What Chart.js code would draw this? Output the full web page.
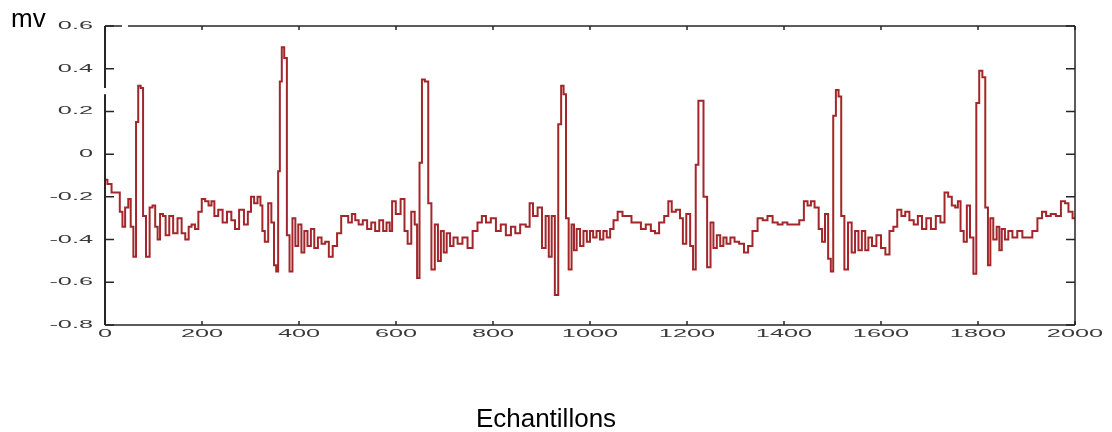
<!DOCTYPE html>
<html>
<head>
<meta charset="utf-8">
<script src="https://cdn.jsdelivr.net/npm/chart.js@4"></script>
<style>
html,body{margin:0;padding:0;background:#ffffff;}
canvas{display:block;}
</style>
</head>
<body>
<canvas id="c" width="1112" height="432"></canvas>
<script>
// Sample index (Echantillons)
const samples = [
  0,10,17,27,34,38,45,51,55,62,
  66,71,76,81,88,96,100,107,110,117,
  122,128,137,144,155,161,170,175,182,189,
  196,203,210,217,222,229,238,247,256,265,
  271,282,291,298,304,311,318,323,326,333,
  340,346,351,355,359,362,367,372,378,383,
  390,395,402,408,414,421,428,435,443,450,
  458,465,474,483,491,498,505,513,519,527,
  536,545,553,561,570,577,584,590,594,605,
  614,621,627,636,641,646,651,656,663,670,
  676,684,689,696,701,708,715,722,732,742,
  753,763,773,781,790,801,811,821,832,842,
  850,862,873,878,887,897,905,912,918,924,
  931,938,943,948,953,959,965,969,976,983,
  990,997,1003,1010,1017,1024,1031,1038,1045,1052,
  1062,1072,1082,1089,1100,1110,1120,1131,1137,1148,
  1158,1165,1172,1182,1189,1194,1203,1210,1215,1221,
  1226,1231,1237,1246,1251,1258,1265,1272,1278,1285,
  1294,1302,1313,1322,1330,1340,1351,1361,1371,1382,
  1392,1402,1412,1426,1437,1445,1452,1459,1467,1476,
  1481,1488,1494,1499,1504,1510,1515,1521,1528,1536,
  1543,1550,1557,1564,1571,1577,1586,1595,1605,1613,
  1622,1629,1638,1646,1654,1663,1672,1680,1689,1698,
  1708,1718,1727,1735,1742,1750,1756,1761,1767,1774,
  1780,1787,1794,1799,1806,1812,1818,1823,1828,1835,
  1842,1846,1852,1859,1866,1876,1886,1897,1907,1917,
  1928,1936,1945,1955,1966,1976,1983,1990,2000
];
// Signal amplitude (mv)
const millivolts = [
  -0.12,-0.14,-0.18,-0.18,-0.27,-0.34,-0.25,-0.21,-0.34,-0.48,
  0.15,0.32,0.31,-0.29,-0.48,-0.25,-0.24,-0.34,-0.40,-0.28,
  -0.29,-0.38,-0.29,-0.37,-0.30,-0.37,-0.40,-0.34,-0.33,-0.35,
  -0.27,-0.21,-0.22,-0.24,-0.22,-0.29,-0.26,-0.32,-0.27,-0.31,
  -0.35,-0.26,-0.33,-0.27,-0.20,-0.23,-0.20,-0.24,-0.36,-0.41,
  -0.23,-0.32,-0.52,-0.55,-0.08,0.34,0.50,0.45,-0.38,-0.55,
  -0.30,-0.43,-0.33,-0.46,-0.36,-0.43,-0.35,-0.44,-0.39,-0.42,
  -0.41,-0.48,-0.43,-0.37,-0.29,-0.29,-0.32,-0.28,-0.31,-0.33,
  -0.31,-0.35,-0.32,-0.36,-0.31,-0.36,-0.32,-0.36,-0.22,-0.28,
  -0.21,-0.36,-0.42,-0.27,-0.33,-0.58,-0.04,0.35,0.34,-0.23,
  -0.54,-0.33,-0.50,-0.36,-0.46,-0.37,-0.43,-0.39,-0.42,-0.39,
  -0.44,-0.36,-0.32,-0.29,-0.32,-0.30,-0.36,-0.33,-0.38,-0.34,
  -0.37,-0.33,-0.34,-0.23,-0.29,-0.25,-0.44,-0.29,-0.48,-0.29,
  -0.66,0.14,0.32,0.28,-0.30,-0.54,-0.33,-0.45,-0.35,-0.43,
  -0.36,-0.41,-0.36,-0.39,-0.36,-0.40,-0.36,-0.39,-0.35,-0.31,
  -0.27,-0.29,-0.29,-0.32,-0.32,-0.35,-0.33,-0.36,-0.37,-0.32,
  -0.29,-0.22,-0.27,-0.26,-0.30,-0.42,-0.28,-0.43,-0.54,-0.05,
  0.25,0.25,-0.20,-0.53,-0.32,-0.44,-0.38,-0.43,-0.39,-0.42,
  -0.39,-0.41,-0.42,-0.46,-0.43,-0.36,-0.30,-0.31,-0.29,-0.32,
  -0.33,-0.32,-0.33,-0.33,-0.31,-0.22,-0.24,-0.22,-0.25,-0.35,
  -0.41,-0.28,-0.49,-0.55,0.18,0.30,0.27,-0.29,-0.54,-0.32,
  -0.46,-0.36,-0.45,-0.36,-0.45,-0.39,-0.43,-0.38,-0.44,-0.47,
  -0.36,-0.34,-0.26,-0.29,-0.27,-0.31,-0.33,-0.29,-0.35,-0.30,
  -0.35,-0.29,-0.32,-0.18,-0.20,-0.24,-0.25,-0.22,-0.36,-0.41,
  -0.24,-0.39,-0.56,0.24,0.39,0.36,-0.25,-0.52,-0.30,-0.40,
  -0.34,-0.45,-0.35,-0.40,-0.36,-0.39,-0.36,-0.39,-0.39,-0.36,
  -0.30,-0.27,-0.29,-0.28,-0.29,-0.22,-0.23,-0.27,-0.30
];
const xTickValues = [0,200,400,600,800,1000,1200,1400,1600,1800,2000];
const yTickValues = [-0.8,-0.6,-0.4,-0.2,0,0.2,0.4,0.6];
const yAxisLabel = 'mv';
const xAxisLabel = 'Echantillons';

const points = samples.map((s, i) => ({ x: s, y: millivolts[i] }));

function fmtY(v) { return v === 0 ? '0' : v.toFixed(1); }

const matlabAxes = {
  id: 'matlabAxes',
  afterDraw(chart) {
    const { ctx, chartArea: a, scales: { x, y } } = chart;
    ctx.save();
    ctx.strokeStyle = '#262626';
    ctx.lineCap = 'butt';
    // box: top (with small gap), right, bottom
    ctx.lineWidth = 1.5;
    ctx.beginPath();
    ctx.moveTo(a.left, a.top); ctx.lineTo(a.left + 17, a.top);
    ctx.moveTo(a.left + 23, a.top); ctx.lineTo(a.right, a.top);
    ctx.moveTo(a.right, a.top); ctx.lineTo(a.right, a.bottom);
    ctx.moveTo(a.left, a.bottom); ctx.lineTo(a.right, a.bottom);
    ctx.stroke();
    // left axis (slightly heavier, with small gap)
    const gapTop = y.getPixelForValue(0.31);
    const gapBot = y.getPixelForValue(0.28);
    ctx.lineWidth = 2;
    ctx.beginPath();
    ctx.moveTo(a.left, a.top); ctx.lineTo(a.left, gapTop);
    ctx.moveTo(a.left, gapBot); ctx.lineTo(a.left, a.bottom);
    ctx.stroke();
    // inward ticks on all four sides
    ctx.lineWidth = 1.5;
    ctx.beginPath();
    yTickValues.forEach(v => {
      const py = y.getPixelForValue(v);
      ctx.moveTo(a.left, py); ctx.lineTo(a.left + 9, py);
      ctx.moveTo(a.right, py); ctx.lineTo(a.right - 9, py);
    });
    xTickValues.forEach(v => {
      const px = x.getPixelForValue(v);
      ctx.moveTo(px, a.bottom); ctx.lineTo(px, a.bottom - 4);
      ctx.moveTo(px, a.top); ctx.lineTo(px, a.top + 4);
    });
    ctx.stroke();
    // tick labels (wide, stretched look)
    ctx.fillStyle = '#3a3a3a';
    ctx.font = '11px "Liberation Sans", Arial, sans-serif';
    ctx.textBaseline = 'middle';
    yTickValues.forEach(v => {
      const py = y.getPixelForValue(v);
      ctx.save();
      ctx.translate(a.left - 12, py);
      ctx.scale(2.3, 1);
      ctx.textAlign = 'right';
      ctx.fillText(fmtY(v), 0, 0);
      ctx.restore();
    });
    xTickValues.forEach(v => {
      const px = x.getPixelForValue(v);
      ctx.save();
      ctx.translate(px, a.bottom + 9);
      ctx.scale(2.3, 1);
      ctx.textAlign = 'center';
      ctx.fillText(String(v), 0, 0);
      ctx.restore();
    });
    // axis names
    ctx.fillStyle = '#000000';
    ctx.font = '26px "Liberation Sans", Arial, sans-serif';
    ctx.textBaseline = 'alphabetic';
    ctx.textAlign = 'left';
    ctx.fillText(yAxisLabel, 11, 27);
    ctx.textAlign = 'center';
    ctx.fillText(xAxisLabel, 546, 427);
    ctx.restore();
  }
};

new Chart(document.getElementById('c'), {
  type: 'line',
  data: {
    datasets: [{
      data: points,
      borderColor: '#a2262a',
      borderWidth: 2,
      pointRadius: 0,
      stepped: 'middle',
      fill: false
    }]
  },
  options: {
    responsive: false,
    animation: false,
    layout: { padding: { top: 26, right: 37, left: 0, bottom: 0 } },
    plugins: { legend: { display: false }, tooltip: { enabled: false }, title: { display: false } },
    scales: {
      x: {
        type: 'linear', min: 0, max: 2000,
        ticks: { display: false },
        grid: { display: false },
        border: { display: false },
        afterFit(s) { s.height = 107; }
      },
      y: {
        type: 'linear', min: -0.8, max: 0.6,
        ticks: { display: false },
        grid: { display: false },
        border: { display: false },
        afterFit(s) { s.width = 105; }
      }
    }
  },
  plugins: [matlabAxes]
});
</script>
</body>
</html>
